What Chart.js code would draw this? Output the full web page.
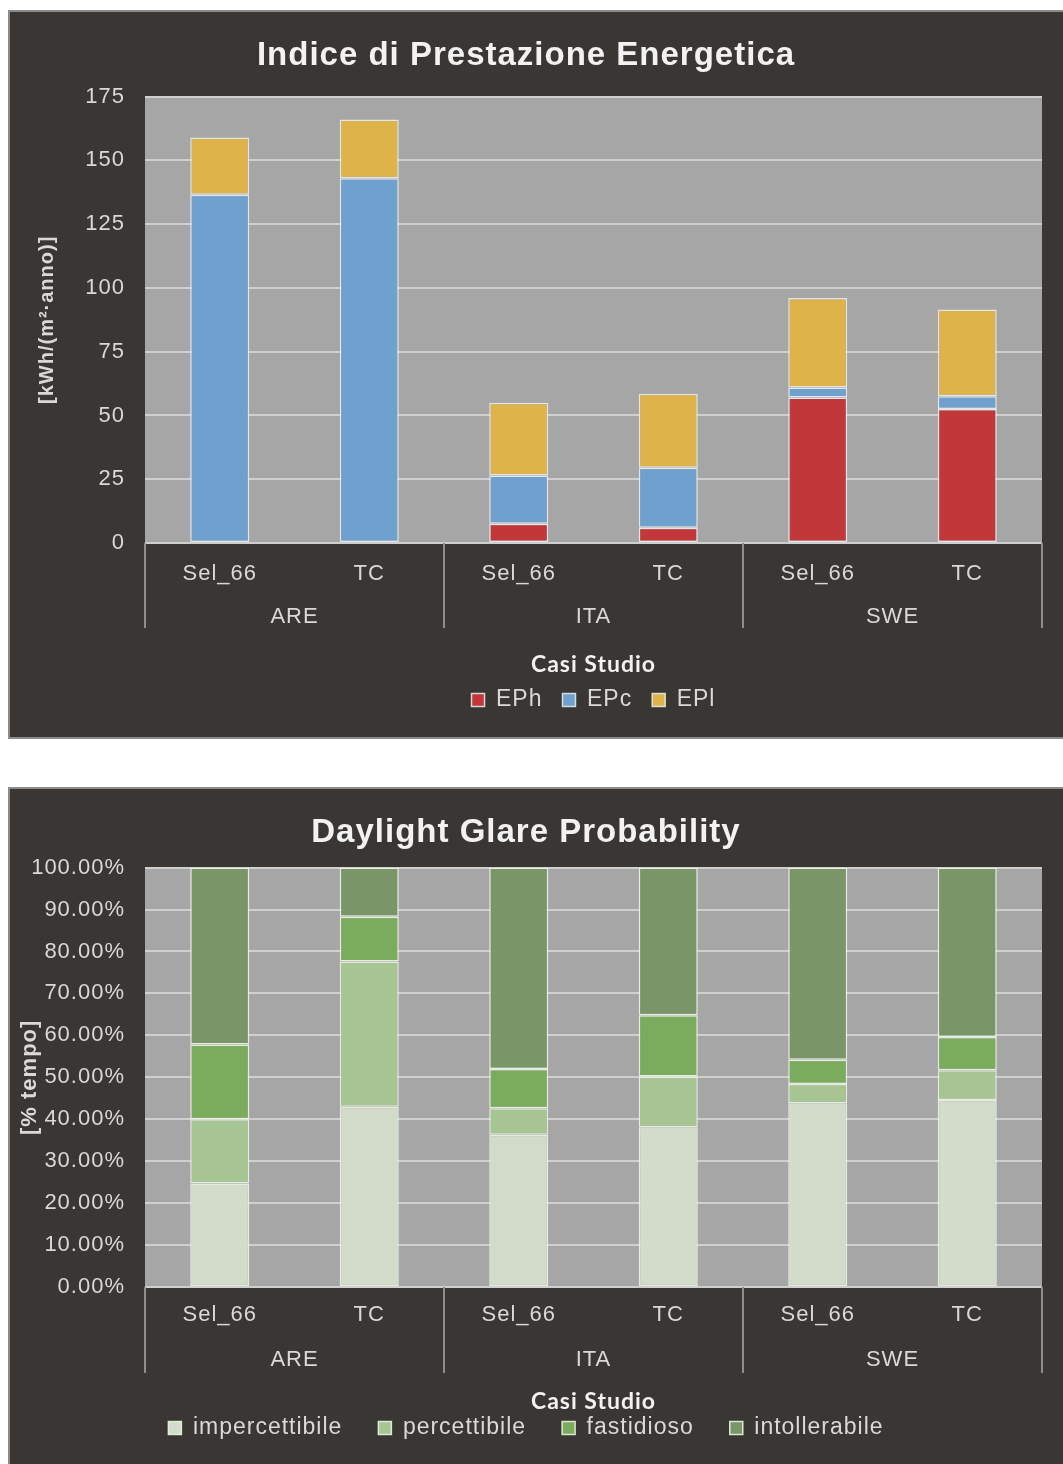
<!DOCTYPE html>
<html>
<head>
<meta charset="utf-8">
<script src="https://cdn.jsdelivr.net/npm/chart.js@4.4.1/dist/chart.umd.min.js"></script>
<style>
body { margin: 0; background: #ffffff; width: 1063px; height: 1464px; position: relative; overflow: hidden; }
.panel { position: absolute; left: 8px; background: #3a3633; border-top: 2px solid #8e8c8a; border-left: 2px solid #8e8c8a; }
#p1 { top: 10px; width: 1055px; height: 725px; border-bottom: 2px solid #8e8c8a; }
#p2 { top: 787px; width: 1055px; height: 677px; }
canvas { display: block; }
</style>
</head>
<body>
<div class="panel" id="p1"><canvas id="chartEP" width="1053" height="725"></canvas></div>
<div class="panel" id="p2"><canvas id="chartDGP" width="1053" height="675"></canvas></div>
<script>
'use strict';

var categorie = ['Sel_66', 'TC', 'Sel_66', 'TC', 'Sel_66', 'TC'];
var gruppi = ['ARE', 'ITA', 'SWE'];

// Indice di Prestazione Energetica [kWh/(m2 anno)]
var epH = [0, 0, 7.5, 6, 57, 52.5];
var epC = [136.5, 143, 19, 23.5, 4, 5];
var epL = [22.5, 23, 28.5, 29, 35, 34];

// Daylight Glare Probability [% tempo]
var impercettibile = [24.7, 43, 36.3, 38.1, 43.8, 44.6];
var percettibile = [15.3, 34.6, 6.3, 12.1, 4.6, 7.1];
var fastidioso = [17.8, 10.7, 9.4, 14.6, 5.8, 7.9];
var intollerabile = [42.2, 11.7, 48, 35.2, 45.8, 40.4];

var testo = '#d9d9d9';
var arial = 'Liberation Sans, Arial, sans-serif';

// the original text is a bit wider, a little letter spacing helps
function spaziatura(chart) {
    chart.ctx.letterSpacing = '1px';
}

// grey plot area + separators between the case study groups
var plotPlugin = {
    id: 'plotPlugin',
    beforeUpdate: spaziatura,
    beforeLayout: spaziatura,
    afterLayout: function(chart) {
        // top chart: legend centred under the plot, not the canvas
        if (!chart.options.legendSuPlot) return;
        var l = chart.legend;
        var c = (chart.chartArea.left + chart.chartArea.right) / 2;
        var w = l.right - l.left;
        l.left = c - w / 2;
        l.right = c + w / 2;
    },
    beforeDraw: function(chart) {
        spaziatura(chart);
        var a = chart.chartArea;
        var ctx = chart.ctx;
        ctx.save();
        ctx.fillStyle = '#a6a6a6';
        ctx.fillRect(a.left, a.top, a.right - a.left, a.bottom - a.top);
        ctx.restore();
    },
    afterDraw: function(chart) {
        var x = chart.scales.x;
        var ctx = chart.ctx;
        var half = (x.getPixelForValue(1) - x.getPixelForValue(0)) / 2;
        var yEnd = chart.scales.x2.top + chart.options.sepDrop;
        ctx.save();
        ctx.strokeStyle = '#8f8d8b';
        ctx.lineWidth = 2;
        [0, 2, 4, 6].forEach(function(i) {
            var px = i < 6 ? x.getPixelForValue(i) - half : x.getPixelForValue(5) + half;
            ctx.beginPath();
            ctx.moveTo(px, chart.chartArea.bottom);
            ctx.lineTo(px, yEnd);
            ctx.stroke();
        });
        ctx.restore();
    }
};

function makeChart(id, opt) {
    var ctx = document.getElementById(id);
    return new Chart(ctx, {
        type: 'bar',
        plugins: [plotPlugin],
        data: {
            labels: categorie,
            datasets: opt.datasets
        },
        options: {
            responsive: false,
            animation: false,
            sepDrop: opt.sepDrop,
            legendSuPlot: opt.legendSuPlot,
            layout: { padding: { top: 0, right: 21, left: 0, bottom: opt.padBottom } },
            datasets: {
                bar: {
                    barPercentage: 0.395,
                    categoryPercentage: 1,
                    borderSkipped: false,
                    borderWidth: function(c) { return c.raw ? 1.5 : 0; }
                }
            },
            plugins: {
                title: {
                    display: true,
                    text: opt.title,
                    color: '#f2f2f2',
                    font: { family: arial, size: 33, weight: 'bold' },
                    padding: opt.titlePad
                },
                legend: {
                    position: 'bottom',
                    labels: {
                        color: testo,
                        font: { family: arial, size: 23 },
                        boxWidth: 13,
                        boxHeight: 13,
                        padding: opt.legendPad,
                        generateLabels: function(chart) {
                            return Chart.defaults.plugins.legend.labels.generateLabels(chart).map(function(l) {
                                l.lineWidth = 1.5;
                                return l;
                            });
                        }
                    }
                },
                tooltip: { enabled: false }
            },
            scales: {
                x: {
                    stacked: true,
                    weight: 1,
                    grid: { display: false, drawTicks: false },
                    border: { display: false },
                    ticks: { color: testo, font: { family: arial, size: 22 }, padding: opt.xPad, maxRotation: 0 },
                    afterFit: function(s) { s.height = opt.xHeight; }
                },
                x2: {
                    type: 'category',
                    position: 'bottom',
                    labels: gruppi,
                    offset: true,
                    weight: 2,
                    grid: { display: false, drawTicks: false },
                    border: { display: false },
                    ticks: { color: testo, font: { family: arial, size: 22 }, padding: opt.x2Pad, maxRotation: 0 },
                    title: {
                        display: true,
                        text: 'Casi Studio',
                        color: '#f2f2f2',
                        font: { family: 'Lato, Open Sans, sans-serif', size: 23, weight: 'bold', lineHeight: 1 },
                        padding: { top: 0, bottom: opt.casiPad }
                    },
                    afterFit: function(s) { s.height = opt.x2Height; }
                },
                y: {
                    stacked: true,
                    min: 0,
                    max: opt.yMax,
                    grid: { color: '#cfcfcf', lineWidth: 2, drawTicks: false },
                    border: { display: false },
                    ticks: {
                        stepSize: opt.yStep,
                        color: testo,
                        font: { family: arial, size: 22 },
                        padding: 20,
                        callback: opt.yFormat
                    },
                    title: {
                        display: true,
                        text: opt.yTitle,
                        color: testo,
                        font: { family: arial, size: opt.yTitleSize, weight: 'bold' },
                        padding: { top: opt.yTitlePad, bottom: 0 }
                    },
                    afterFit: function(s) { s.width = 135; }
                }
            }
        }
    });
}

var bordoEP = 'rgba(236,240,246,0.85)';
makeChart('chartEP', {
    title: 'Indice di Prestazione Energetica',
    titlePad: { top: 24, bottom: 21 },
    datasets: [
        { label: 'EPh', data: epH, backgroundColor: '#c1373a', borderColor: bordoEP },
        { label: 'EPc', data: epC, backgroundColor: '#70a0cd', borderColor: bordoEP },
        { label: 'EPl', data: epL, backgroundColor: '#deb44a', borderColor: bordoEP }
    ],
    yMax: 175,
    yStep: 25,
    yFormat: function(v) { return v; },
    yTitle: '[kWh/(m²·anno)]',
    yTitleSize: 20,
    yTitlePad: 25,
    xPad: 18,
    xHeight: 52,
    x2Pad: 9,
    x2Height: 73.5,
    casiPad: -8,
    sepDrop: 33,
    legendPad: 20,
    legendSuPlot: true,
    padBottom: 15.5
});

var bordoDGP = 'rgba(236,244,230,0.9)';
makeChart('chartDGP', {
    title: 'Daylight Glare Probability',
    titlePad: { top: 24, bottom: 15 },
    datasets: [
        { label: 'impercettibile', data: impercettibile, backgroundColor: '#d3dcca', borderColor: bordoDGP },
        { label: 'percettibile', data: percettibile, backgroundColor: '#a6c592', borderColor: bordoDGP },
        { label: 'fastidioso', data: fastidioso, backgroundColor: '#7bab5d', borderColor: bordoDGP },
        { label: 'intollerabile', data: intollerabile, backgroundColor: '#7a9568', borderColor: bordoDGP }
    ],
    yMax: 100,
    yStep: 10,
    yFormat: function(v) { return v.toFixed(2) + '%'; },
    yTitle: '[% tempo]',
    yTitleSize: 22,
    yTitlePad: 7,
    xPad: 15,
    xHeight: 42,
    x2Pad: 18,
    x2Height: 51.5,
    casiPad: -33,
    sepDrop: 44,
    legendPad: 36,
    legendSuPlot: false,
    padBottom: 14.5
});
</script>
</body>
</html>
